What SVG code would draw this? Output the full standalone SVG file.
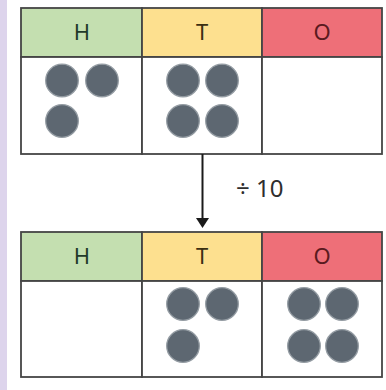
<svg xmlns="http://www.w3.org/2000/svg" width="386" height="390" viewBox="0 0 386 390">
<style>
.cell{fill:#ffffff;stroke:#454545;stroke-width:1.8}
.h{fill:#c4dfb0}.t{fill:#fde08f}.o{fill:#ee6f78}
.lbl{font-family:"Noto Sans","Open Sans",sans-serif;font-size:22px;text-anchor:middle}
.c{fill:#5d6771;stroke:#949ca3;stroke-width:1.3}
</style>
<rect x="0" y="0" width="386" height="390" fill="#ffffff"/>
<rect x="0" y="0" width="7" height="390" fill="#ddd4ec"/>

<g id="top-table">
<rect class="cell h" x="21" y="8" width="121" height="49"/>
<rect class="cell t" x="142" y="8" width="120" height="49"/>
<rect class="cell o" x="262" y="8" width="120" height="49"/>
<rect class="cell" x="21" y="57" width="121" height="97"/>
<rect class="cell" x="142" y="57" width="120" height="97"/>
<rect class="cell" x="262" y="57" width="120" height="97"/>
<text class="lbl" x="82" y="40" fill="#1f3a29">H</text>
<text class="lbl" x="202" y="40" fill="#3b2f12">T</text>
<text class="lbl" x="322" y="40" fill="#5a1a1e">O</text>
<circle class="c" cx="62" cy="80.5" r="16.3"/>
<circle class="c" cx="102" cy="80.5" r="16.3"/>
<circle class="c" cx="62" cy="121" r="16.3"/>
<circle class="c" cx="183" cy="80.5" r="16.3"/>
<circle class="c" cx="222" cy="80.5" r="16.3"/>
<circle class="c" cx="183" cy="121" r="16.3"/>
<circle class="c" cx="222" cy="121" r="16.3"/>
</g>

<g id="connectors">
<line x1="202.5" y1="154" x2="202.5" y2="219" stroke="#1a1a1a" stroke-width="2"/>
<path d="M196,218 L209,218 L202.5,228 Z" fill="#1a1a1a"/>
<text x="236" y="197" font-family="Noto Sans, Open Sans, sans-serif" font-size="24" fill="#2e2e2e">÷ 10</text>
</g>

<g id="bottom-table">
<rect class="cell h" x="21" y="232" width="121" height="49"/>
<rect class="cell t" x="142" y="232" width="120" height="49"/>
<rect class="cell o" x="262" y="232" width="120" height="49"/>
<rect class="cell" x="21" y="281" width="121" height="96"/>
<rect class="cell" x="142" y="281" width="120" height="96"/>
<rect class="cell" x="262" y="281" width="120" height="96"/>
<text class="lbl" x="82" y="264" fill="#1f3a29">H</text>
<text class="lbl" x="202" y="264" fill="#3b2f12">T</text>
<text class="lbl" x="322" y="264" fill="#5a1a1e">O</text>
<circle class="c" cx="183" cy="304" r="16.3"/>
<circle class="c" cx="222" cy="304" r="16.3"/>
<circle class="c" cx="183" cy="346" r="16.3"/>
<circle class="c" cx="304" cy="304" r="16.3"/>
<circle class="c" cx="342" cy="304" r="16.3"/>
<circle class="c" cx="304" cy="346" r="16.3"/>
<circle class="c" cx="342" cy="346" r="16.3"/>
</g>
</svg>
